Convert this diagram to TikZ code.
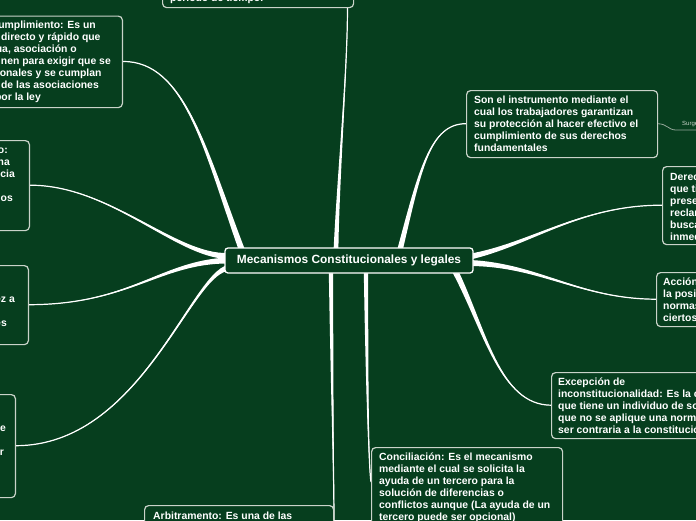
\documentclass[tikz,border=0pt]{standalone}
\usepackage{fontspec}
\setmainfont{Liberation Sans}
\usetikzlibrary{calc}
\definecolor{bg}{HTML}{063E1E}
\definecolor{boxline}{HTML}{C9D3C9}
\definecolor{thinline}{HTML}{93A698}
\tikzset{
  conn/.style={fill=white, draw=none},
  connline/.style={draw=white, line width=1.2pt},
  mmbox/.style={draw=boxline, line width=1.2pt, rounded corners=4pt, fill=bg, inner sep=0pt, anchor=north west},
  mmtext/.style={text=white, font=\bfseries\fontsize{10.4}{12}\selectfont, align=left, inner sep=0pt, anchor=north west},
  frag/.style={text=white, font=\bfseries\fontsize{10.4}{12}\selectfont, inner sep=0pt, anchor=base east},
  rootbox/.style={draw=white, line width=1.3pt, rounded corners=3pt, fill=bg, minimum width=248pt, minimum height=25pt, text=white, font=\bfseries\fontsize{11.9}{14}\selectfont, inner sep=0pt},
  sublink/.style={draw=thinline, line width=0.8pt},
  sublabel/.style={text=boxline, font=\fontsize{6}{7}\selectfont, inner sep=0pt, anchor=base west}
}
\newcommand{\mmconn}[5]{%
  \fill[conn] ($(#1)+(#5)$) .. controls ($(#2)+0.5*(#5)$) and ($(#3)+0.1*(#5)$) .. (#4)
     .. controls ($(#3)-0.1*(#5)$) and ($(#2)-0.5*(#5)$) .. ($(#1)-(#5)$) -- cycle;
  \draw[connline] (#1) .. controls (#2) and (#3) .. (#4);}
\begin{document}
\begin{tikzpicture}[x=1pt,y=-1pt]
\useasboundingbox (0,0) rectangle (696,520);
\fill[bg] (0,0) rectangle (696,520);

% geometry of the boxes
\node[inner sep=0pt, minimum width=248pt, minimum height=25pt] (c) at (349,260.5) {};
\node[inner sep=0pt, minimum width=191pt, minimum height=60pt, anchor=north west] (top) at (162,-53) {};
\node[inner sep=0pt, minimum width=260pt, minimum height=91.5pt, anchor=north east] (b2) at (123,15.5) {};
\node[inner sep=0pt, minimum width=200pt, minimum height=90pt, anchor=north east] (b3) at (30,140) {};
\node[inner sep=0pt, minimum width=200pt, minimum height=79pt, anchor=north east] (b4) at (29,265) {};
\node[inner sep=0pt, minimum width=200pt, minimum height=103pt, anchor=north east] (b5) at (16,394) {};
\node[inner sep=0pt, minimum width=191pt, minimum height=67pt, anchor=north west] (son) at (466,90) {};
\node[inner sep=0pt, minimum width=200pt, minimum height=78pt, anchor=north west] (der) at (662,166) {};
\node[inner sep=0pt, minimum width=200pt, minimum height=54pt, anchor=north west] (acc) at (656,272) {};
\node[inner sep=0pt, minimum width=250pt, minimum height=66pt, anchor=north west] (exc) at (551,372) {};
\node[inner sep=0pt, minimum width=191pt, minimum height=100pt, anchor=north west] (conc) at (371,447) {};
\node[inner sep=0pt, minimum width=189pt, minimum height=80pt, anchor=north west] (arb) at (144,505) {};

% connector end points
\coordinate (s1) at ($(c.north)+(-13,2)$);
\coordinate (e1) at ($(top.south east)+(-6,0)$);
\coordinate (s2) at ($(c.north west)+(17,2)$);
\coordinate (s3) at ($(c.west)+(3,-4.5)$);
\coordinate (s4) at ($(c.west)+(3,0)$);
\coordinate (s5) at ($(c.west)+(3,7.5)$);
\coordinate (s6) at ($(c.north)+(51,2)$);
\coordinate (s7) at ($(c.east)+(-5,-3.5)$);
\coordinate (s8) at ($(c.east)+(-3,2.5)$);
\coordinate (s9) at ($(c.south east)+(-18,-2)$);
\coordinate (s10) at ($(c.south)+(17,-2)$);
\coordinate (e10) at ($(conc.north west)+(0,35)$);
\coordinate (s11) at ($(c.south)+(-18,-2)$);
\coordinate (e11) at ($(arb.north east)+(1,55)$);

% connectors
\mmconn{s1}{338,180}{348,60}{e1}{2.4,0}
\mmconn{s2}{205,150}{185,61.25}{b2.east}{2.8,-1.05}
\mmconn{s3}{175,256}{110,185}{b3.east}{0,3}
\mmconn{s4}{160,262}{130,304.5}{b4.east}{0,3}
\mmconn{s5}{190,275}{140,445.5}{b5.east}{0,3}
\mmconn{s6}{420,170}{430,123.5}{son.west}{2.8,0}
\mmconn{s7}{530,245}{580,205}{der.west}{0,3}
\mmconn{s8}{540,265}{580,299}{acc.west}{0,3}
\mmconn{s9}{485,330}{500,405}{exc.west}{2.7,-1.3}
\mmconn{s10}{367,400}{369,470}{e10}{2.2,0}
\mmconn{s11}{332,400}{334,480}{e11}{2.2,0}

% sub link
\coordinate (sj) at (676,130);
\coordinate (sk) at (700,130);
\draw[sublink] (son.east) .. controls +(10,0) and +(-8,0) .. (sj) -- (sk);
\node[sublabel] (surg) at (682,125) {Surgen};

% drawn boxes
\node[mmbox, minimum width=191pt, minimum height=60pt] (topbox) at (top.north west) {};
\node[mmbox, anchor=north east, minimum width=260pt, minimum height=91.5pt] (b2box) at (b2.north east) {};
\node[mmbox, anchor=north east, minimum width=200pt, minimum height=90pt] (b3box) at (b3.north east) {};
\node[mmbox, anchor=north east, minimum width=200pt, minimum height=79pt] (b4box) at (b4.north east) {};
\node[mmbox, anchor=north east, minimum width=200pt, minimum height=103pt] (b5box) at (b5.north east) {};
\node[mmbox, minimum width=191pt, minimum height=67pt] (sonbox) at (son.north west) {};
\node[mmbox, minimum width=200pt, minimum height=78pt] (derbox) at (der.north west) {};
\node[mmbox, minimum width=200pt, minimum height=54pt] (accbox) at (acc.north west) {};
\node[mmbox, minimum width=250pt, minimum height=66pt] (excbox) at (exc.north west) {};
\node[mmbox, minimum width=191pt, minimum height=100pt] (concbox) at (conc.north west) {};
\node[mmbox, minimum width=189pt, minimum height=80pt] (arbbox) at (arb.north west) {};
\node[rootbox] (root) at (c) {Mecanismos Constitucionales y legales};

% texts
\node[frag, anchor=base west] (toptext) at (170,1.5) {período de tiempo.};

\node[frag] (b2l1) at (96,28.5) {cumplimiento: Es un};
\node[frag] (b2l2) at (100.7,40.5) {directo y rápido que};
\node[frag] (b2l3) at (77,52.5) {ua, asociación o};
\node[frag] (b2l4) at (111,64.5) {nen para exigir que se};
\node[frag] (b2l5) at (101.7,76.5) {onales y se cumplan};
\node[frag] (b2l6) at (99,88.5) {de las asociaciones};
\node[frag] (b2l7) at (41,100.5) {por la ley};

\node[frag] (b3l1) at (8,153) {o:};
\node[frag] (b3l2) at (10,165) {na};
\node[frag] (b3l3) at (15,177) {icia};
\node[frag] (b3l5) at (13,201) {nos};

\node[frag] (b4l3) at (15,302.5) {ez a};
\node[frag] (b4l5) at (7,326.5) {es};

\node[frag] (b5l3) at (6,431.5) {e};
\node[frag] (b5l5) at (4,455) {r};

\node[mmtext] (sontext) at (474,95) {\rule{0pt}{8pt}Son el instrumento mediante el\\cual los trabajadores garantizan\\su protección al hacer efectivo el\\cumplimiento de sus derechos\\fundamentales};

\node[mmtext] (dertext) at (670,172) {\rule{0pt}{8pt}Derecho\\que tiene\\presentar\\reclamar\\buscando\\inmediata};

\node[mmtext] (acctext) at (663,277) {\rule{0pt}{8pt}Acción\\la posibilidad\\normas\\ciertos};

\node[mmtext] (exctext) at (558,377.5) {\rule{0pt}{8pt}Excepción de\\inconstitucionalidad: Es la capacidad\\que tiene un individuo de solicitar\\que no se aplique una norma por\\ser contraria a la constitución};

\node[mmtext] (conctext) at (379,452) {\rule{0pt}{8pt}Conciliación: Es el mecanismo\\mediante el cual se solicita la\\ayuda de un tercero para la\\solución de diferencias o\\conflictos aunque (La ayuda de un\\tercero puede ser opcional)};

\node[mmtext] (arbtext) at (153,511) {\rule{0pt}{8pt}Arbitramento: Es una de las};
\end{tikzpicture}
\end{document}
